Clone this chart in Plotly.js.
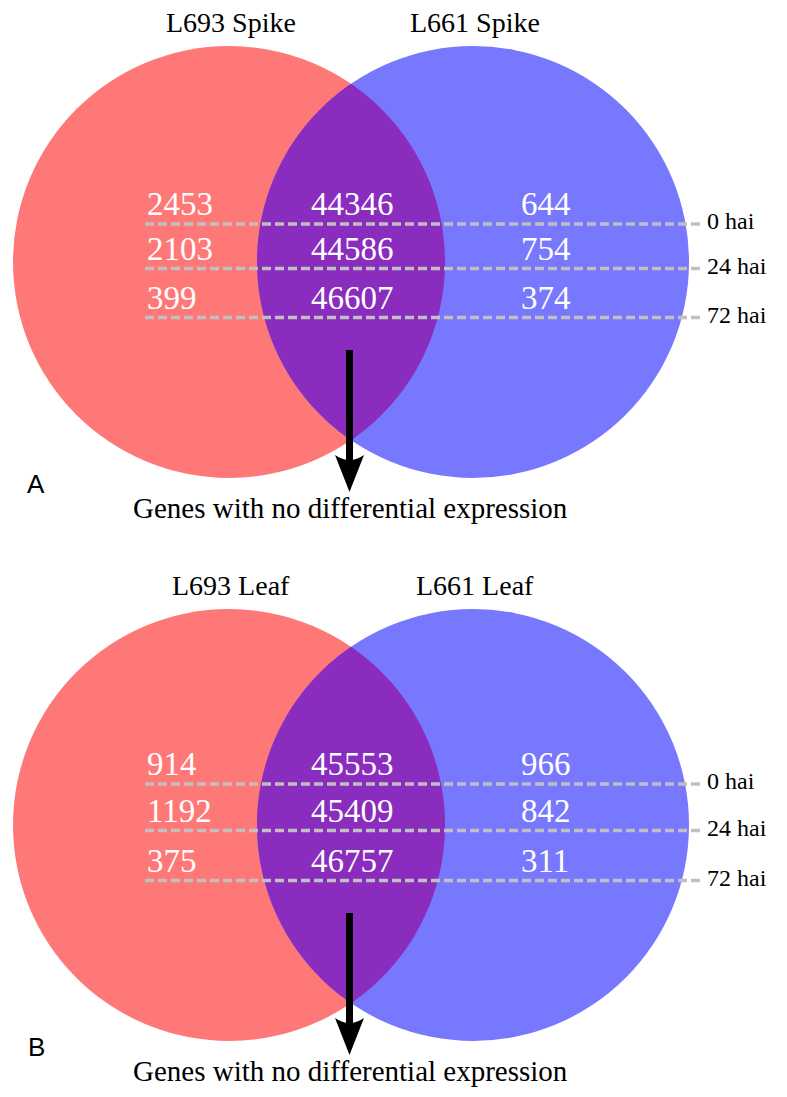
<!DOCTYPE html>
<html>
<head>
<meta charset="utf-8">
<script src="https://cdn.plot.ly/plotly-3.0.1.min.js"></script>
<style>
  html, body { margin: 0; padding: 0; background: #ffffff; }
  #chart { width: 787px; height: 1097px; }
</style>
</head>
<body>
<div id="chart"></div>
<script>
// ---------------- DATA ----------------
const timepoints = ['0 hai', '24 hai', '72 hai'];
const spikeL693Only = [2453, 2103, 399];
const spikeShared   = [44346, 44586, 46607];
const spikeL661Only = [644, 754, 374];
const leafL693Only  = [914, 1192, 375];
const leafShared    = [45553, 45409, 46757];
const leafL661Only  = [966, 842, 311];
const spikeSetNames = ['L693 Spike', 'L661 Spike'];
const leafSetNames  = ['L693 Leaf', 'L661 Leaf'];
const panelLetters  = ['A', 'B'];
const arrowCaption  = 'Genes with no differential expression';

// ---------------- LAYOUT / STYLE ----------------
const W = 787, H = 1097;
const SERIF = '"Liberation Serif", "Times New Roman", Times, serif';
const SANS = '"Liberation Sans", Arial, Helvetica, sans-serif';
const RED = '#FF7878', BLUE = '#7878FF', PURPLE = '#8A2DBE', GREY = '#C0C0C0';

const panels = [
  { names: spikeSetNames, left: spikeL693Only, mid: spikeShared, right: spikeL661Only,
    letter: panelLetters[0], dy: 0, lines: [224, 268.5, 317.5] },
  { names: leafSetNames, left: leafL693Only, mid: leafShared, right: leafL661Only,
    letter: panelLetters[1], dy: 563, lines: [784, 830.5, 880.5] }
];

const R = 216, cxL = 229, cxR = 473, cy0 = 262;

const shapes = [];
const annotations = [];

function lensPath(cy) {
  const d = cxR - cxL;
  const a = d / 2;
  const h = Math.sqrt(R * R - a * a);
  const pts = [];
  const n = 80;
  const th0 = Math.atan2(-h, a), th1 = Math.atan2(h, a);
  for (let i = 0; i <= n; i++) {
    const t = th0 + (th1 - th0) * i / n;
    pts.push([cxL + R * Math.cos(t), cy + R * Math.sin(t)]);
  }
  const ph0 = Math.atan2(h, -a), ph1 = Math.atan2(-h, -a) + 2 * Math.PI;
  for (let i = 0; i <= n; i++) {
    const t = ph0 + (ph1 - ph0) * i / n;
    pts.push([cxR + R * Math.cos(t), cy + R * Math.sin(t)]);
  }
  return 'M ' + pts.map(p => p[0].toFixed(2) + ',' + p[1].toFixed(2)).join(' L ') + ' Z';
}

panels.forEach(p => {
  const cy = cy0 + p.dy;
  shapes.push({ type: 'circle', xref: 'x', yref: 'y', x0: cxL - R, x1: cxL + R, y0: cy - R, y1: cy + R,
    fillcolor: RED, line: { width: 0 }, layer: 'above' });
  shapes.push({ type: 'circle', xref: 'x', yref: 'y', x0: cxR - R, x1: cxR + R, y0: cy - R, y1: cy + R,
    fillcolor: BLUE, line: { width: 0 }, layer: 'above' });
  shapes.push({ type: 'path', xref: 'x', yref: 'y', path: lensPath(cy),
    fillcolor: PURPLE, line: { width: 0 }, layer: 'above' });

  p.lines.forEach((ly, i) => {
    shapes.push({ type: 'line', xref: 'x', yref: 'y', x0: 145, x1: 701, y0: ly, y1: ly,
      line: { color: GREY, width: 3.5, dash: '9px,4px' }, layer: 'above' });
    const ty = ly - 20;
    annotations.push({ x: 145, y: ty, xref: 'x', yref: 'y', text: String(p.left[i]), showarrow: false,
      xanchor: 'left', yanchor: 'middle', font: { family: SERIF, size: 33, color: '#ffffff' } });
    annotations.push({ x: 352, y: ty, xref: 'x', yref: 'y', text: String(p.mid[i]), showarrow: false,
      xanchor: 'center', yanchor: 'middle', font: { family: SERIF, size: 33, color: '#ffffff' } });
    annotations.push({ x: 519, y: ty, xref: 'x', yref: 'y', text: String(p.right[i]), showarrow: false,
      xanchor: 'left', yanchor: 'middle', font: { family: SERIF, size: 33, color: '#ffffff' } });
    annotations.push({ x: 705, y: ly - 3, xref: 'x', yref: 'y', text: timepoints[i], showarrow: false,
      xanchor: 'left', yanchor: 'middle', font: { family: SERIF, size: 24, color: '#000000' } });
  });

  annotations.push({ x: 231, y: 22.5 + p.dy, xref: 'x', yref: 'y', text: p.names[0], showarrow: false,
    xanchor: 'center', yanchor: 'middle', font: { family: SERIF, size: 28, color: '#000000' } });
  annotations.push({ x: 475, y: 22.5 + p.dy, xref: 'x', yref: 'y', text: p.names[1], showarrow: false,
    xanchor: 'center', yanchor: 'middle', font: { family: SERIF, size: 28, color: '#000000' } });

  shapes.push({ type: 'line', xref: 'x', yref: 'y', x0: 349.5, x1: 349.5, y0: 350 + p.dy, y1: 466 + p.dy,
    line: { color: '#000000', width: 7 }, layer: 'above' });
  const ay = p.dy;
  shapes.push({ type: 'path', xref: 'x', yref: 'y',
    path: `M 349.5,${492 + ay} L 335,${455 + ay} Q 349.5,${465 + ay} 364,${455 + ay} Z`,
    fillcolor: '#000000', line: { width: 0 }, layer: 'above' });

  annotations.push({ x: 350, y: 508 + p.dy, xref: 'x', yref: 'y', text: arrowCaption, showarrow: false,
    xanchor: 'center', yanchor: 'middle', font: { family: SERIF, size: 29, color: '#000000' } });

  annotations.push({ x: 36, y: 483.5 + p.dy, xref: 'x', yref: 'y', text: p.letter, showarrow: false,
    xanchor: 'center', yanchor: 'middle', font: { family: SANS, size: 26, color: '#000000' } });
});

const layout = {
  width: W, height: H,
  margin: { l: 0, r: 0, t: 0, b: 0, pad: 0 },
  paper_bgcolor: '#ffffff', plot_bgcolor: '#ffffff',
  showlegend: false,
  xaxis: { range: [0, W], visible: false, fixedrange: true },
  yaxis: { range: [H, 0], visible: false, fixedrange: true },
  shapes: shapes,
  annotations: annotations
};

Plotly.newPlot('chart', [], layout, { staticPlot: true, displayModeBar: false });
</script>
</body>
</html>
